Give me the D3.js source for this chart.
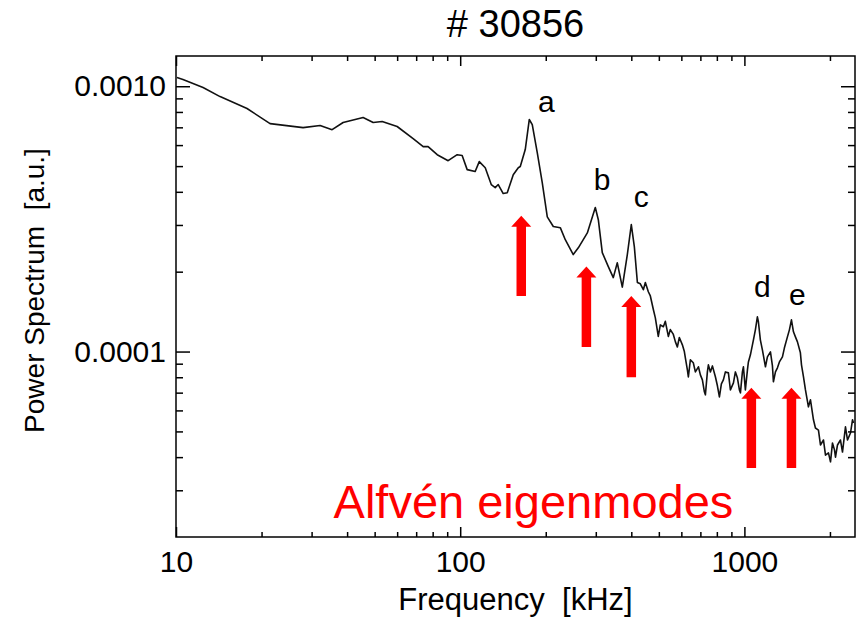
<!DOCTYPE html>
<html>
<head>
<meta charset="utf-8">
<script src="https://cdn.jsdelivr.net/npm/d3@7"></script>
<style>
  body { margin: 0; background: #fff; }
  text { font-family: "Liberation Sans", Arial, sans-serif; fill: #000; }
</style>
</head>
<body>
<div id="plot-container"></div>
<script>
// Spectrum: frequency in kHz, power in units of 1e-4 a.u.
const freq = [10.08, 10.58, 12.45, 14.29, 17.78, 21.43, 28.0, 32.14, 35.42, 38.73,
  45.55, 49.4, 53.14, 60.0, 68.3, 74.1, 77.1, 83.0, 90.7, 97.6,
  101.6, 105.8, 112.9, 116.7, 122.5, 128.6, 132.8, 136.1, 141.7, 146.4,
  153.7, 160.1, 162.7, 169.4, 175.0, 179.3, 186.7, 194.4, 202.5, 212.6,
  225.0, 234.3, 249.9, 260.4, 280.1, 298.8, 306.2, 316.2, 332.0, 345.7,
  357.1, 371.9, 387.3, 400.0, 410.0, 420.2, 430.3, 441.0, 448.2, 459.2,
  466.7, 478.2, 486.0, 497.7, 506.0, 518.6, 527.0, 540.0, 548.8, 562.3,
  571.5, 580.8, 590.3, 605.0, 614.8, 619.8, 630.0, 635.1, 645.5, 661.0,
  672.2, 689.0, 700.0, 711.5, 723.1, 729.0, 740.9, 747.0, 759.2, 771.7,
  790.9, 803.6, 816.7, 829.9, 843.4, 857.3, 878.4, 892.8, 915.0, 929.7,
  944.8, 960.4, 968.4, 984.0, 992.1, 1008, 1025, 1033, 1050, 1076,
  1093, 1111, 1120, 1138, 1157, 1186, 1205, 1235, 1255, 1265,
  1286, 1307, 1328, 1361, 1383, 1417, 1440, 1464, 1488, 1512,
  1537, 1574, 1588, 1614, 1640, 1680, 1708, 1750, 1778, 1822,
  1852, 1898, 1929, 1976, 2009, 2041, 2075, 2092, 2126, 2178,
  2214, 2268, 2306, 2362, 2401, 2420];
const powerE4 = [10.78, 10.60, 9.89, 9.14, 8.24, 7.23, 6.98, 7.11, 6.86, 7.30,
  7.62, 7.30, 7.36, 7.05, 6.35, 5.92, 5.92, 5.52, 5.24, 5.52,
  5.48, 4.85, 4.77, 5.20, 4.93, 4.26, 4.15, 4.26, 3.94, 3.97,
  4.64, 4.93, 4.98, 5.77, 7.49, 7.17, 5.62, 4.33, 3.22, 2.96,
  2.93, 2.64, 2.32, 2.46, 2.80, 3.49, 3.14, 2.36, 2.09, 1.90,
  2.16, 1.75, 2.32, 3.01, 2.48, 1.82, 1.80, 1.71, 1.82, 1.68,
  1.62, 1.44, 1.34, 1.14, 1.26, 1.24, 1.30, 1.14, 1.21, 1.16,
  1.09, 1.04, 1.13, 1.06, 1.00, 0.947, 0.853, 0.802, 0.930, 0.907,
  0.838, 0.876, 0.817, 0.782, 0.705, 0.687, 0.838, 0.891, 0.838, 0.883,
  0.802, 0.743, 0.675, 0.755, 0.782, 0.838, 0.831, 0.717, 0.762, 0.838,
  0.796, 0.717, 0.699, 0.838, 0.876, 0.717, 0.853, 0.914, 0.972, 1.107,
  1.207, 1.352, 1.295, 1.107, 1.015, 0.876, 0.955, 0.997, 0.883, 0.769,
  0.838, 0.868, 0.914, 0.955, 1.033, 1.136, 1.207, 1.317, 1.187, 1.136,
  1.088, 0.989, 0.891, 0.802, 0.717, 0.619, 0.658, 0.553, 0.515, 0.506,
  0.4445, 0.464, 0.407, 0.415, 0.384, 0.452, 0.426, 0.400, 0.4445, 0.464,
  0.418, 0.520, 0.464, 0.493, 0.553, 0.538];

// mode labels a..e (frequency kHz, baseline power 1e-4 a.u.)
const modeLabels = ["a", "b", "c", "d", "e"];
const modeLabelFreq = [201, 316, 434, 1157, 1537];
const modeLabelPower = [8.03, 4.08, 3.52, 1.61, 1.50];

// red arrows: frequency, tip power, tail power (1e-4 a.u.)
const arrowFreq = [164, 278, 400, 1058, 1464];
const arrowTip = [3.25, 2.09, 1.62, 0.73, 0.73];
const arrowTail = [1.62, 1.04, 0.80, 0.364, 0.364];

// ticks
const xMajor = [10, 100, 1000];
const xMajorLabels = ["10", "100", "1000"];
const xMinor = [20, 30, 40, 50, 60, 70, 80, 90, 200, 300, 400, 500, 600, 700, 800, 900, 2000];
const yMajor = [1e-4, 1e-3];
const yMajorLabels = ["0.0001", "0.0010"];
const yMinor = [3e-5, 4e-5, 5e-5, 6e-5, 7e-5, 8e-5, 9e-5, 2e-4, 3e-4, 4e-4, 5e-4, 6e-4, 7e-4, 8e-4, 9e-4];

const title = "# 30856";
const xTitle = "Frequency\u00a0 [kHz]";
const yTitle = "Power Spectrum\u00a0 [a.u.]";
const note = "Alfvén eigenmodes";
const noteFreq = 181, notePower = 0.236;

const W = 859, H = 617;
const margin = {top: 56, right: 4, bottom: 80, left: 176};
const width = W - margin.left - margin.right,
      height = H - margin.top - margin.bottom;

const svg = d3.select("#plot-container").append("svg")
    .attr("width", W)
    .attr("height", H)
    .append("g")
    .attr("transform", `translate(${margin.left}, ${margin.top})`);

const x = d3.scaleLog().domain([10, 2450]).range([0, width]);
const y = d3.scaleLog().domain([2e-5, 1.3e-3]).range([height, 0]);

const data = freq.map((f, i) => ({f: f, p: powerE4[i] * 1e-4}));

// clip the curve to the frame
svg.append("clipPath").attr("id", "clip")
    .append("rect").attr("width", width).attr("height", height);

svg.append("path")
    .datum(data)
    .attr("clip-path", "url(#clip)")
    .attr("fill", "none")
    .attr("stroke", "#111")
    .attr("stroke-width", 1.6)
    .attr("stroke-linejoin", "round")
    .attr("d", d3.line().x(d => x(d.f)).y(d => y(d.p)));

// axes with inward ticks
function styleAxis(g) {
    g.select(".domain").remove();
    g.selectAll(".tick line").attr("stroke", "#000").attr("stroke-width", 1.5);
    g.selectAll(".tick text").attr("font-size", 30).attr("fill", "#000")
        .attr("font-family", '"Liberation Sans", Arial, sans-serif');
}

svg.append("g").attr("transform", `translate(0, ${height})`)
    .call(d3.axisBottom(x).tickValues(xMajor).tickSize(-10).tickPadding(14)
        .tickFormat((d, i) => xMajorLabels[i]))
    .call(styleAxis);
svg.append("g").attr("transform", `translate(0, ${height})`)
    .call(d3.axisBottom(x).tickValues(xMinor).tickSize(-5).tickFormat(""))
    .call(styleAxis);
svg.append("g")
    .call(d3.axisTop(x).tickValues(xMajor).tickSize(-10).tickFormat(""))
    .call(styleAxis);
svg.append("g")
    .call(d3.axisTop(x).tickValues(xMinor).tickSize(-5).tickFormat(""))
    .call(styleAxis);

svg.append("g")
    .call(d3.axisLeft(y).tickValues(yMajor).tickSize(-14).tickPadding(10)
        .tickFormat((d, i) => yMajorLabels[i]))
    .call(styleAxis);
svg.append("g")
    .call(d3.axisLeft(y).tickValues(yMinor).tickSize(-7).tickFormat(""))
    .call(styleAxis);
svg.append("g").attr("transform", `translate(${width}, 0)`)
    .call(d3.axisRight(y).tickValues(yMajor).tickSize(-14).tickFormat(""))
    .call(styleAxis);
svg.append("g").attr("transform", `translate(${width}, 0)`)
    .call(d3.axisRight(y).tickValues(yMinor).tickSize(-7).tickFormat(""))
    .call(styleAxis);

// frame
svg.append("rect")
    .attr("width", width).attr("height", height)
    .attr("fill", "none").attr("stroke", "#000").attr("stroke-width", 1.5);

// titles
svg.append("text")
    .attr("x", width / 2).attr("y", -19)
    .attr("text-anchor", "middle").attr("font-size", 38)
    .text(title);
svg.append("text")
    .attr("x", width / 2).attr("y", height + 73)
    .attr("text-anchor", "middle").attr("font-size", 31)
    .text(xTitle);
svg.append("text")
    .attr("transform", `translate(-132, ${height / 2 - 6}) rotate(-90)`)
    .attr("text-anchor", "middle").attr("font-size", 28)
    .text(yTitle);

// arrows
const shaftW = 9.5, headW = 20, headL = 11;
svg.selectAll("path.arrow")
    .data(arrowFreq)
    .join("path")
    .attr("class", "arrow")
    .attr("fill", "#ff0000")
    .attr("d", (f, i) => {
        const cx = x(f), t = y(arrowTip[i] * 1e-4), b = y(arrowTail[i] * 1e-4);
        return `M${cx - shaftW / 2},${b} L${cx - shaftW / 2},${t + headL} L${cx - headW / 2},${t + headL}`
            + ` L${cx},${t} L${cx + headW / 2},${t + headL} L${cx + shaftW / 2},${t + headL} L${cx + shaftW / 2},${b} Z`;
    });

// mode letters
svg.selectAll("text.mode")
    .data(modeLabels)
    .join("text")
    .attr("class", "mode")
    .attr("x", (d, i) => x(modeLabelFreq[i]))
    .attr("y", (d, i) => y(modeLabelPower[i] * 1e-4))
    .attr("text-anchor", "middle")
    .attr("font-size", 30)
    .text(d => d);

svg.append("text")
    .attr("x", x(noteFreq)).attr("y", y(notePower * 1e-4))
    .attr("text-anchor", "middle")
    .attr("font-size", 47)
    .style("fill", "#ff0000")
    .text(note);
</script>
</body>
</html>
